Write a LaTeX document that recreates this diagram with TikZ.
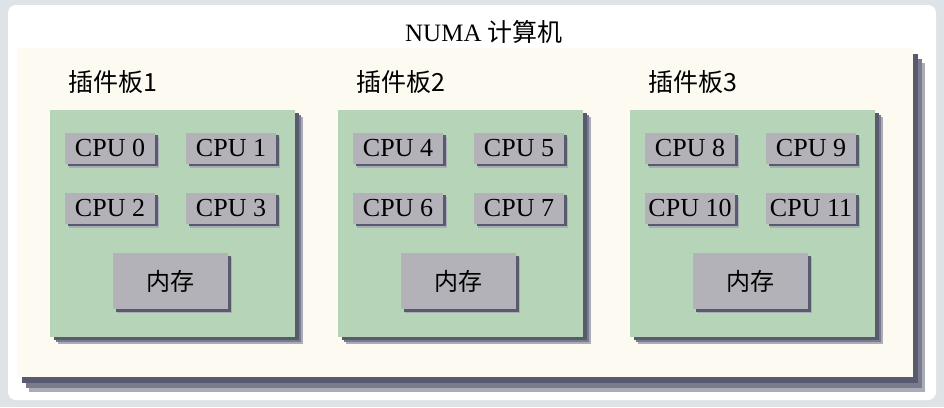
\documentclass[tikz,border=0pt]{standalone}
\usepackage{fontspec}
\setmainfont{Liberation Serif}
\newfontfamily\cjk{Noto Sans CJK SC}
\usetikzlibrary{shadows}
\definecolor{pagebg}{RGB}{221,227,230}
\definecolor{cream}{RGB}{253,250,241}
\definecolor{boardgreen}{RGB}{182,213,184}
\definecolor{chipgray}{RGB}{178,178,184}
\definecolor{shadeA}{RGB}{88,90,110}
\definecolor{shadeB}{RGB}{122,124,142}
\definecolor{shadeC}{RGB}{170,172,184}
\tikzset{
  panel/.style={fill=cream, inner sep=0pt, minimum width=896pt, minimum height=329pt,
    drop shadow={shadow xshift=12pt, shadow yshift=-15pt, fill=shadeC, opacity=1},
    drop shadow={shadow xshift=9pt, shadow yshift=-11pt, fill=shadeB, opacity=1},
    drop shadow={shadow xshift=5pt, shadow yshift=-6pt, fill=shadeA, opacity=1}},
  board/.style={fill=boardgreen, inner sep=0pt, minimum width=245pt, minimum height=227pt,
    drop shadow={shadow xshift=8pt, shadow yshift=-7pt, fill=shadeC, opacity=1},
    drop shadow={shadow xshift=6pt, shadow yshift=-5pt, fill=shadeB, opacity=1},
    drop shadow={shadow xshift=3.5pt, shadow yshift=-3pt, fill=shadeA, opacity=1}},
  chip/.style={fill=chipgray, inner sep=0pt,
    drop shadow={shadow xshift=4pt, shadow yshift=-4pt, fill=shadeC, opacity=1},
    drop shadow={shadow xshift=2.5pt, shadow yshift=-2.5pt, fill=shadeA, opacity=1}},
  cpu/.style={chip, minimum width=90pt, minimum height=31pt, font=\fontsize{26}{30}\selectfont},
  mem/.style={chip, minimum width=115pt, minimum height=56pt, font=\cjk\fontsize{24}{28}\selectfont},
  tag/.style={anchor=west, inner sep=0pt, font=\cjk\fontsize{25}{28}\selectfont}
}
\begin{document}
\begin{tikzpicture}[x=1pt,y=-1pt]
  \useasboundingbox (0,0) rectangle (944,407);
  \fill[pagebg] (0,0) rectangle (944,407);
  \fill[white, rounded corners=8pt] (8,5) rectangle (936,400);
  % the whole machine
  \node[inner sep=0pt, font=\fontsize{25}{28}\selectfont] (title) at (484,32) {NUMA {\cjk 计算机}};
  \node[panel] (numa) at (465,212.5) {};
  % three boards
  \foreach \b/\x in {1/50,2/338,3/630}{
    \node[board] (board\b) at (\x+122.5,223.5) {};
    \node[tag] (tag\b) at (\x+18,82) {插件板\b};
    \foreach \r/\y in {0/148,1/208}
      \foreach \c/\cx in {0/60,1/181}{
        \pgfmathtruncatemacro\k{4*(\b-1)+2*\r+\c}
        \node[cpu] (cpu\k) at (\x+\cx,\y) {CPU \k};
      }
    \node[mem] (mem\b) at (\x+120.5,281) {内存};
  }
\end{tikzpicture}
\end{document}
